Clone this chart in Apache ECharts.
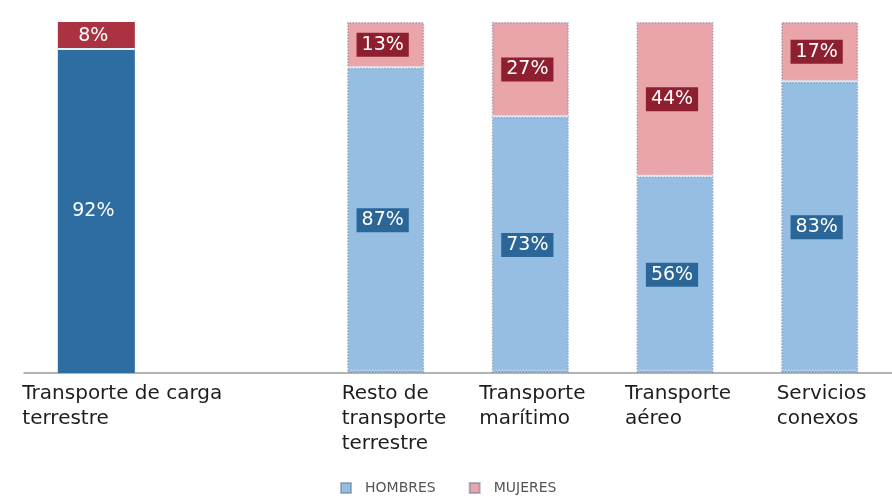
<!DOCTYPE html>
<html>
<head>
<meta charset="utf-8">
<script src="https://cdn.jsdelivr.net/npm/echarts@6/dist/echarts.min.js"></script>
<style>
  html, body { margin: 0; padding: 0; background: #ffffff; }
  #chart { width: 892px; height: 502px; }
</style>
</head>
<body>
<div id="chart"></div>
<script>
// Categories (the second slot is an intentionally empty gap)
const categories = [
  'Transporte de carga\nterrestre',
  '',
  'Resto de\ntransporte\nterrestre',
  'Transporte\nmarítimo',
  'Transporte\naéreo',
  'Servicios\nconexos'
];
// Share of employment by sex, in percent
const hombres = [92, null, 87, 73, 56, 83];
const mujeres = [8, null, 13, 27, 44, 17];
const seriesNames = ['HOMBRES', 'MUJERES'];

// Horizontal shift of each category label relative to its band centre
const labelShift = [-74, 0, -44, -51, -50, -43];

const C = {
  blueDark: '#2e6da2',
  redDark: '#ab3341',
  blueLight: '#96bde2',
  pink: '#e9a5a9',
  blueBox: '#2b6698',
  redBox: '#8e1f30',
  separator: '#e4f3fb'
};

const font = 'DejaVu Sans, Arial, sans-serif';

function valueLabel(bg) {
  return {
    show: true,
    position: 'inside',
    offset: [-3, 0],
    formatter: p => p.value + '%',
    color: '#ffffff',
    fontFamily: font,
    fontSize: 19,
    backgroundColor: bg,
    padding: [3, 5, 2, 5]
  };
}

const lightBorder = {
  borderColor: 'rgba(105,125,155,0.55)',
  borderWidth: 1.5,
  borderType: 'dotted'
};

const hombresData = hombres.map((v, i) => i === 0
  ? { value: v, itemStyle: { color: C.blueDark, borderWidth: 0 }, label: valueLabel(C.blueDark) }
  : v);
const mujeresData = mujeres.map((v, i) => i === 0
  ? { value: v, itemStyle: { color: C.redDark, borderWidth: 0 }, label: valueLabel(C.redDark) }
  : v);

const chart = echarts.init(document.getElementById('chart'), null, { renderer: 'canvas' });
chart.setOption({
  animation: false,
  backgroundColor: '#ffffff',
  grid: { left: 24, right: 0, top: 22, bottom: 129, containLabel: false, outerBoundsMode: 'none' },
  legend: {
    data: seriesNames,
    top: 481,
    left: 340,
    padding: 0,
    icon: 'rect',
    itemWidth: 10,
    itemHeight: 10,
    itemGap: 33,
    textStyle: { color: '#555', fontFamily: font, fontSize: 14, padding: [0, 0, 0, 9] }
  },
  xAxis: {
    type: 'category',
    data: categories.map((c, i) => ({
      value: c,
      textStyle: { align: 'left', padding: [0, 0, 0, labelShift[i]] }
    })),
    axisLine: { show: true, lineStyle: { color: '#9a9a9a', width: 1.5 } },
    axisTick: { show: false },
    axisLabel: {
      interval: 0,
      align: 'left',
      margin: 8,
      color: '#1e1e1e',
      fontFamily: font,
      fontSize: 20,
      lineHeight: 25
    }
  },
  yAxis: {
    type: 'value',
    min: 0,
    max: 100,
    show: false,
    splitLine: { show: false }
  },
  series: [
    {
      name: seriesNames[0],
      type: 'bar',
      stack: 'total',
      z: 3,
      barWidth: 77,
      data: hombresData,
      itemStyle: Object.assign({
        color: C.blueLight,
        shadowColor: C.separator,
        shadowBlur: 0,
        shadowOffsetY: -2
      }, lightBorder),
      label: valueLabel(C.blueBox)
    },
    {
      name: seriesNames[1],
      type: 'bar',
      stack: 'total',
      z: 2,
      barWidth: 77,
      data: mujeresData,
      itemStyle: Object.assign({ color: C.pink }, lightBorder),
      label: valueLabel(C.redBox)
    }
  ]
});
</script>
</body>
</html>
